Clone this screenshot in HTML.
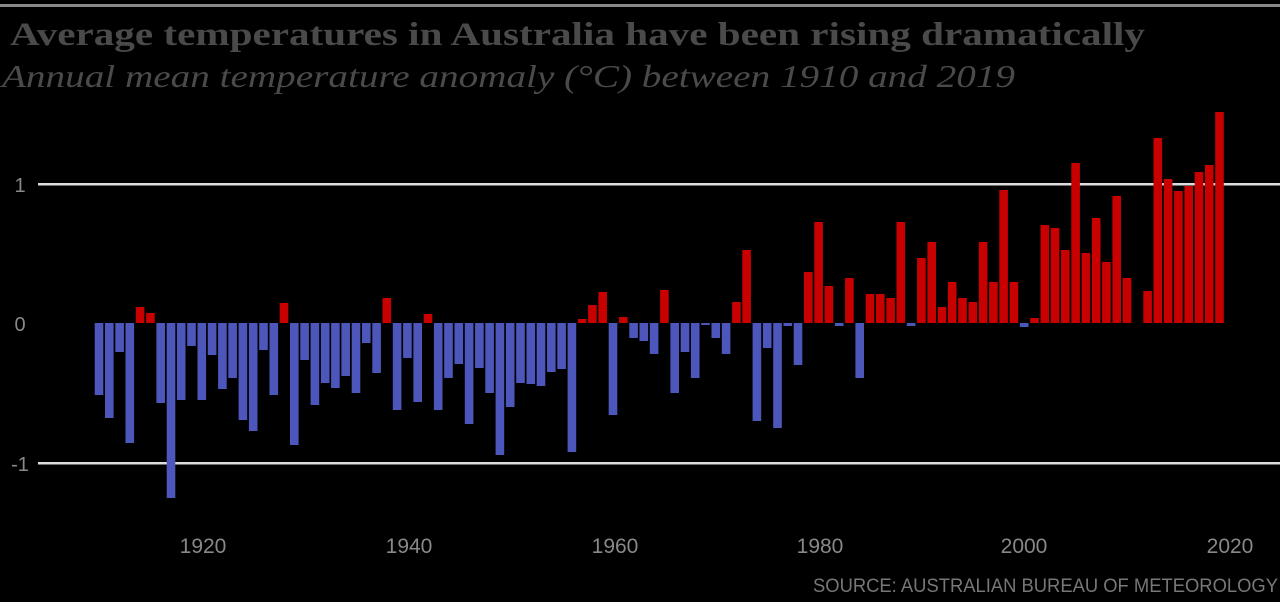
<!DOCTYPE html>
<html><head><meta charset="utf-8"><style>
html,body{margin:0;padding:0;background:#000;}
svg{display:block;}
.r{fill:#c80000}.b{fill:#4d57bb}
</style></head><body>
<svg width="1280" height="602" xmlns="http://www.w3.org/2000/svg">
<rect width="1280" height="602" fill="#000"/>
<rect x="0" y="4" width="1280" height="3" fill="#888"/>
<text x="10" y="45" font-family="Liberation Serif, serif" font-weight="bold" font-size="33" fill="#4a4a4a" textLength="1135" lengthAdjust="spacingAndGlyphs">Average temperatures in Australia have been rising dramatically</text>
<text x="2" y="87" font-family="Liberation Serif, serif" font-style="italic" font-size="32" fill="#4a4a4a" textLength="1013" lengthAdjust="spacingAndGlyphs">Annual mean temperature anomaly (°C) between 1910 and 2019</text>
<rect x="38" y="183" width="1242" height="2.5" fill="#ddd"/>
<rect x="38" y="462" width="1242" height="2.5" fill="#ddd"/>
<g font-family="Liberation Sans, sans-serif" font-size="20" fill="#888">
<text x="20" y="192" text-anchor="middle">1</text>
<text x="20" y="331" text-anchor="middle">0</text>
<text x="20" y="471" text-anchor="middle">-1</text>
</g>
<g font-family="Liberation Sans Narrow, Liberation Sans, sans-serif" font-size="21" fill="#888" text-anchor="middle">
<text x="203" y="553">1920</text>
<text x="409" y="553">1940</text>
<text x="615" y="553">1960</text>
<text x="820" y="553">1980</text>
<text x="1024" y="553">2000</text>
<text x="1230" y="553">2020</text>
</g>
<text x="1278" y="592" text-anchor="end" font-family="Liberation Sans Narrow, Liberation Sans, sans-serif" font-size="19" fill="#777" textLength="465" lengthAdjust="spacingAndGlyphs">SOURCE: AUSTRALIAN BUREAU OF METEOROLOGY</text>
<g>
<rect class="b" x="94.7" y="323" width="8.6" height="72"/>
<rect class="b" x="105.0" y="323" width="8.6" height="95"/>
<rect class="b" x="115.3" y="323" width="8.6" height="29"/>
<rect class="b" x="125.5" y="323" width="8.6" height="120"/>
<rect class="r" x="135.8" y="307" width="8.6" height="16"/>
<rect class="r" x="146.1" y="313" width="8.6" height="10"/>
<rect class="b" x="156.4" y="323" width="8.6" height="80"/>
<rect class="b" x="166.7" y="323" width="8.6" height="175"/>
<rect class="b" x="176.9" y="323" width="8.6" height="77"/>
<rect class="b" x="187.2" y="323" width="8.6" height="23"/>
<rect class="b" x="197.5" y="323" width="8.6" height="77"/>
<rect class="b" x="207.8" y="323" width="8.6" height="32"/>
<rect class="b" x="218.1" y="323" width="8.6" height="66"/>
<rect class="b" x="228.3" y="323" width="8.6" height="55"/>
<rect class="b" x="238.6" y="323" width="8.6" height="97"/>
<rect class="b" x="248.9" y="323" width="8.6" height="108"/>
<rect class="b" x="259.2" y="323" width="8.6" height="27"/>
<rect class="b" x="269.5" y="323" width="8.6" height="72"/>
<rect class="r" x="279.7" y="303" width="8.6" height="20"/>
<rect class="b" x="290.0" y="323" width="8.6" height="122"/>
<rect class="b" x="300.3" y="323" width="8.6" height="37"/>
<rect class="b" x="310.6" y="323" width="8.6" height="82"/>
<rect class="b" x="320.9" y="323" width="8.6" height="60"/>
<rect class="b" x="331.1" y="323" width="8.6" height="65"/>
<rect class="b" x="341.4" y="323" width="8.6" height="53"/>
<rect class="b" x="351.7" y="323" width="8.6" height="70"/>
<rect class="b" x="362.0" y="323" width="8.6" height="20"/>
<rect class="b" x="372.3" y="323" width="8.6" height="50"/>
<rect class="r" x="382.5" y="298" width="8.6" height="25"/>
<rect class="b" x="392.8" y="323" width="8.6" height="87"/>
<rect class="b" x="403.1" y="323" width="8.6" height="35"/>
<rect class="b" x="413.4" y="323" width="8.6" height="79"/>
<rect class="r" x="423.7" y="314" width="8.6" height="9"/>
<rect class="b" x="433.9" y="323" width="8.6" height="87"/>
<rect class="b" x="444.2" y="323" width="8.6" height="55"/>
<rect class="b" x="454.5" y="323" width="8.6" height="41"/>
<rect class="b" x="464.8" y="323" width="8.6" height="101"/>
<rect class="b" x="475.1" y="323" width="8.6" height="45"/>
<rect class="b" x="485.3" y="323" width="8.6" height="70"/>
<rect class="b" x="495.6" y="323" width="8.6" height="132"/>
<rect class="b" x="505.9" y="323" width="8.6" height="84"/>
<rect class="b" x="516.2" y="323" width="8.6" height="60"/>
<rect class="b" x="526.5" y="323" width="8.6" height="61"/>
<rect class="b" x="536.7" y="323" width="8.6" height="63"/>
<rect class="b" x="547.0" y="323" width="8.6" height="49"/>
<rect class="b" x="557.3" y="323" width="8.6" height="46"/>
<rect class="b" x="567.6" y="323" width="8.6" height="129"/>
<rect class="r" x="577.9" y="319" width="8.6" height="4"/>
<rect class="r" x="588.1" y="305" width="8.6" height="18"/>
<rect class="r" x="598.4" y="292" width="8.6" height="31"/>
<rect class="b" x="608.7" y="323" width="8.6" height="92"/>
<rect class="r" x="619.0" y="317" width="8.6" height="6"/>
<rect class="b" x="629.3" y="323" width="8.6" height="15"/>
<rect class="b" x="639.5" y="323" width="8.6" height="18"/>
<rect class="b" x="649.8" y="323" width="8.6" height="31"/>
<rect class="r" x="660.1" y="290" width="8.6" height="33"/>
<rect class="b" x="670.4" y="323" width="8.6" height="70"/>
<rect class="b" x="680.7" y="323" width="8.6" height="29"/>
<rect class="b" x="690.9" y="323" width="8.6" height="55"/>
<rect class="b" x="701.2" y="323" width="8.6" height="2"/>
<rect class="b" x="711.5" y="323" width="8.6" height="15"/>
<rect class="b" x="721.8" y="323" width="8.6" height="31"/>
<rect class="r" x="732.1" y="302" width="8.6" height="21"/>
<rect class="r" x="742.3" y="250" width="8.6" height="73"/>
<rect class="b" x="752.6" y="323" width="8.6" height="98"/>
<rect class="b" x="762.9" y="323" width="8.6" height="25"/>
<rect class="b" x="773.2" y="323" width="8.6" height="105"/>
<rect class="b" x="783.5" y="323" width="8.6" height="3"/>
<rect class="b" x="793.7" y="323" width="8.6" height="42"/>
<rect class="r" x="804.0" y="272" width="8.6" height="51"/>
<rect class="r" x="814.3" y="222" width="8.6" height="101"/>
<rect class="r" x="824.6" y="286" width="8.6" height="37"/>
<rect class="b" x="834.9" y="323" width="8.6" height="3"/>
<rect class="r" x="845.1" y="278" width="8.6" height="45"/>
<rect class="b" x="855.4" y="323" width="8.6" height="55"/>
<rect class="r" x="865.7" y="294" width="8.6" height="29"/>
<rect class="r" x="876.0" y="294" width="8.6" height="29"/>
<rect class="r" x="886.3" y="298" width="8.6" height="25"/>
<rect class="r" x="896.5" y="222" width="8.6" height="101"/>
<rect class="b" x="906.8" y="323" width="8.6" height="3"/>
<rect class="r" x="917.1" y="258" width="8.6" height="65"/>
<rect class="r" x="927.4" y="242" width="8.6" height="81"/>
<rect class="r" x="937.7" y="307" width="8.6" height="16"/>
<rect class="r" x="947.9" y="282" width="8.6" height="41"/>
<rect class="r" x="958.2" y="298" width="8.6" height="25"/>
<rect class="r" x="968.5" y="302" width="8.6" height="21"/>
<rect class="r" x="978.8" y="242" width="8.6" height="81"/>
<rect class="r" x="989.1" y="282" width="8.6" height="41"/>
<rect class="r" x="999.3" y="190" width="8.6" height="133"/>
<rect class="r" x="1009.6" y="282" width="8.6" height="41"/>
<rect class="b" x="1019.9" y="323" width="8.6" height="4"/>
<rect class="r" x="1030.2" y="318" width="8.6" height="5"/>
<rect class="r" x="1040.5" y="225" width="8.6" height="98"/>
<rect class="r" x="1050.7" y="228" width="8.6" height="95"/>
<rect class="r" x="1061.0" y="250" width="8.6" height="73"/>
<rect class="r" x="1071.3" y="163" width="8.6" height="160"/>
<rect class="r" x="1081.6" y="253" width="8.6" height="70"/>
<rect class="r" x="1091.9" y="218" width="8.6" height="105"/>
<rect class="r" x="1102.1" y="262" width="8.6" height="61"/>
<rect class="r" x="1112.4" y="196" width="8.6" height="127"/>
<rect class="r" x="1122.7" y="278" width="8.6" height="45"/>
<rect class="r" x="1143.3" y="291" width="8.6" height="32"/>
<rect class="r" x="1153.5" y="138" width="8.6" height="185"/>
<rect class="r" x="1163.8" y="179" width="8.6" height="144"/>
<rect class="r" x="1174.1" y="191" width="8.6" height="132"/>
<rect class="r" x="1184.4" y="186" width="8.6" height="137"/>
<rect class="r" x="1194.7" y="172" width="8.6" height="151"/>
<rect class="r" x="1204.9" y="165" width="8.6" height="158"/>
<rect class="r" x="1215.2" y="112" width="8.6" height="211"/>
</g>
</svg>
</body></html>
